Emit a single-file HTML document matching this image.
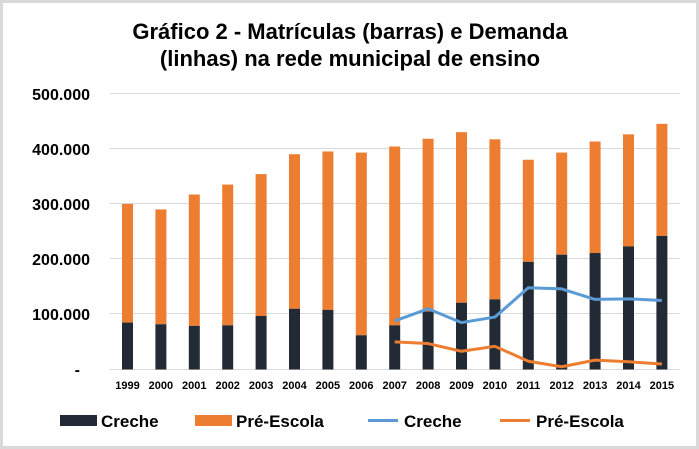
<!DOCTYPE html>
<html><head><meta charset="utf-8"><style>
html,body{margin:0;padding:0;background:#fff}
svg{display:block;font-family:"Liberation Sans",Arial,sans-serif;font-weight:bold}
</style></head><body>
<svg width="699" height="449" xmlns="http://www.w3.org/2000/svg">
<rect x="1.5" y="1.5" width="696" height="446" fill="#fff" stroke="#d9d9d9" stroke-width="3"/>
<text x="350" y="39" font-size="22" text-anchor="middle" fill="#000">Gráfico 2 - Matrículas (barras) e Demanda</text>
<text x="350" y="66" font-size="22" text-anchor="middle" fill="#000">(linhas) na rede municipal de ensino</text>
<g stroke="#d9d9d9" stroke-width="1">
<line x1="110" x2="680" y1="93.5" y2="93.5"/>
<line x1="110" x2="680" y1="148.5" y2="148.5"/>
<line x1="110" x2="680" y1="203.5" y2="203.5"/>
<line x1="110" x2="680" y1="258.5" y2="258.5"/>
<line x1="110" x2="680" y1="313.5" y2="313.5"/>
<line x1="110" x2="680" y1="369.5" y2="369.5"/>
</g>
<g font-size="16" text-anchor="end" fill="#000">
<text x="90" y="100">500.000</text>
<text x="90" y="155">400.000</text>
<text x="90" y="210">300.000</text>
<text x="90" y="265">200.000</text>
<text x="90" y="320">100.000</text>
<text x="80" y="375">-</text>
</g>
<g id="bars"></g>
<g id="xl" font-size="11" text-anchor="middle" fill="#000"></g>
<polyline id="l1" fill="none" stroke="#5b9bd5" stroke-width="3" stroke-linejoin="round"/>
<polyline id="l2" fill="none" stroke="#ed7d31" stroke-width="3" stroke-linejoin="round"/>
<rect x="60" y="415" width="37" height="11" fill="#222a35"/>
<text x="101" y="427" font-size="17" fill="#000">Creche</text>
<rect x="195" y="415" width="37" height="11" fill="#ed7d31"/>
<text x="236" y="427" font-size="17" fill="#000">Pré-Escola</text>
<line x1="368" x2="398" y1="420.5" y2="420.5" stroke="#5b9bd5" stroke-width="3"/>
<text x="404" y="427" font-size="17" fill="#000">Creche</text>
<line x1="500" x2="530" y1="420.5" y2="420.5" stroke="#ed7d31" stroke-width="3"/>
<text x="536" y="427" font-size="17" fill="#000">Pré-Escola</text>
</svg>
<script>
var tot=[300,290,317,335,354,390,395,393,404,418,430,417,380,393,413,426,445];
var cr=[85,82,79,80,97,110,108,62,80,105,121,127,195,208,211,223,242];
var lc=[88,110,85,95,148,146,127,128,125];
var lp=[50,47,33,42,15,5,17,14,10];
var ns="http://www.w3.org/2000/svg";
function Y(v){return 369.5-v*0.552;}
function X(i){return 127.5+i*33.4;}
var b=document.getElementById("bars"),xl=document.getElementById("xl");
for(var i=0;i<17;i++){
 var x=X(i)-5.5;
 var r=document.createElementNS(ns,"rect");r.setAttribute("x",x);r.setAttribute("width",11);r.setAttribute("y",Y(tot[i]));r.setAttribute("height",Y(cr[i])-Y(tot[i]));r.setAttribute("fill","#ed7d31");b.appendChild(r);
 r=document.createElementNS(ns,"rect");r.setAttribute("x",x);r.setAttribute("width",11);r.setAttribute("y",Y(cr[i]));r.setAttribute("height",369.5-Y(cr[i]));r.setAttribute("fill","#222a35");b.appendChild(r);
 var t=document.createElementNS(ns,"text");t.setAttribute("x",X(i));t.setAttribute("y",389);t.textContent=1999+i;xl.appendChild(t);
}
function pl(id,a){var p=[];for(var j=0;j<a.length;j++)p.push(X(j+8)+","+Y(a[j]));document.getElementById(id).setAttribute("points",p.join(" "));}
pl("l1",lc);pl("l2",lp);
</script>
</body></html>
